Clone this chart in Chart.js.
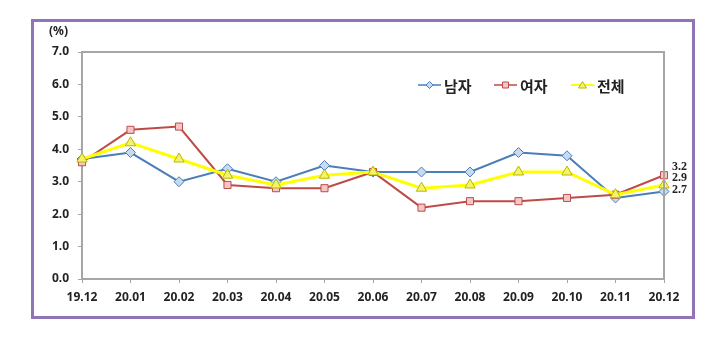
<!DOCTYPE html>
<html>
<head>
<meta charset="utf-8">
<script src="https://cdn.jsdelivr.net/npm/chart.js@4"></script>
<style>
  body { margin: 0; background: #fff; }
  #wrap { position: relative; width: 710px; height: 360px; }
  #frame {
    position: absolute; left: 31px; top: 19px; width: 658px; height: 294px;
    border: 3px solid #8f74b6; pointer-events: none;
  }
</style>
</head>
<body>
<div id="wrap">
  <canvas id="chart" width="710" height="360"></canvas>
  <div id="frame"></div>
</div>
<script>
const months = ["19.12", "20.01", "20.02", "20.03", "20.04", "20.05", "20.06",
  "20.07", "20.08", "20.09", "20.10", "20.11", "20.12"];
const men = [3.7, 3.9, 3.0, 3.4, 3.0, 3.5, 3.3, 3.3, 3.3, 3.9, 3.8, 2.5, 2.7];
const women = [3.6, 4.6, 4.7, 2.9, 2.8, 2.8, 3.3, 2.2, 2.4, 2.4, 2.5, 2.6, 3.2];
const total = [3.7, 4.2, 3.7, 3.2, 2.9, 3.2, 3.3, 2.8, 2.9, 3.3, 3.3, 2.6, 2.9];
const seriesNames = ["남자", "여자", "전체"];

const tickFont = { family: "'Noto Sans', sans-serif", size: 12, weight: "bold" };

// frame, unit label, custom legend and end labels
const extras = {
  id: "extras",
  afterDraw(chart) {
    const ctx = chart.ctx;
    const a = chart.chartArea;
    ctx.save();
    ctx.strokeStyle = "#a6a6a6";
    ctx.lineWidth = 2;
    ctx.beginPath();
    ctx.moveTo(a.left, a.top);
    ctx.lineTo(a.right, a.top);
    ctx.lineTo(a.right, a.bottom);
    ctx.stroke();

    ctx.fillStyle = "#222";
    ctx.font = "bold 12px 'Noto Sans', sans-serif";
    ctx.textAlign = "left";
    ctx.textBaseline = "middle";
    ctx.fillText("(%)", 49, 32);

    // end-of-line labels
    const last = months.length - 1;
    const x = chart.scales.x.getPixelForValue(last);
    ctx.font = "bold 12px 'Liberation Serif', serif";
    ctx.fillText(women[last].toFixed(1), x + 8, 167);
    ctx.fillText(total[last].toFixed(1), x + 8, 178);
    ctx.fillText(men[last].toFixed(1), x + 8, 190);

    // legend
    const ly = 85;
    const items = [
      { x: 418, ds: chart.data.datasets[0] },
      { x: 494, ds: chart.data.datasets[1] },
      { x: 571, ds: chart.data.datasets[2] },
    ];
    items.forEach((it, i) => {
      ctx.strokeStyle = it.ds.borderColor;
      ctx.lineWidth = i === 2 ? 2 : 1.5;
      ctx.beginPath();
      ctx.moveTo(it.x, ly);
      ctx.lineTo(it.x + 23, ly);
      ctx.stroke();
      ctx.fillStyle = it.ds.pointBackgroundColor;
      ctx.strokeStyle = it.ds.pointBorderColor;
      ctx.lineWidth = 1;
      const cx = it.x + 11.5;
      ctx.beginPath();
      if (i === 0) {
        ctx.moveTo(cx, ly - 3.5); ctx.lineTo(cx + 3.5, ly); ctx.lineTo(cx, ly + 3.5); ctx.lineTo(cx - 3.5, ly);
      } else if (i === 1) {
        ctx.rect(cx - 3, ly - 3, 6, 6);
      } else {
        ctx.moveTo(cx, ly - 3.5); ctx.lineTo(cx + 4, ly + 3); ctx.lineTo(cx - 4, ly + 3);
      }
      ctx.closePath();
      ctx.fill();
      ctx.stroke();
      ctx.fillStyle = "#222";
      ctx.font = "bold 15px 'Noto Sans CJK KR', sans-serif";
      ctx.textAlign = "left";
      ctx.fillText(seriesNames[i], it.x + 26, ly + 1);
    });
    ctx.restore();
  },
};

new Chart(document.getElementById("chart"), {
  type: "line",
  data: {
    labels: months,
    datasets: [
      {
        label: seriesNames[0],
        data: men,
        borderColor: "#4a7ebb",
        borderWidth: 2,
        pointStyle: "rectRot",
        pointRadius: 5,
        pointBackgroundColor: "#c6dbf2",
        pointBorderColor: "#4a7ebb",
        pointBorderWidth: 1,
        order: 2,
      },
      {
        label: seriesNames[1],
        data: women,
        borderColor: "#be4b48",
        borderWidth: 2,
        pointStyle: "rect",
        pointRadius: 5,
        pointBackgroundColor: "#f5c6c6",
        pointBorderColor: "#be4b48",
        pointBorderWidth: 1,
        order: 1,
      },
      {
        label: seriesNames[2],
        data: total,
        borderColor: "#ffff00",
        borderWidth: 3,
        pointStyle: "triangle",
        pointRadius: 6,
        pointBackgroundColor: "#f4f46a",
        pointBorderColor: "#b8b800",
        pointBorderWidth: 1,
        order: 0,
      },
    ],
  },
  options: {
    responsive: false,
    animation: false,
    layout: { padding: { left: 0, top: 52, right: 46, bottom: 0 } },
    plugins: {
      legend: { display: false },
      tooltip: { enabled: false },
    },
    scales: {
      x: {
        offset: false,
        afterFit: (scale) => { scale.height = 81; },
        grid: { display: true, drawOnChartArea: false, tickLength: 4, color: "#a6a6a6" },
        border: { color: "#a6a6a6", width: 2 },
        ticks: { font: tickFont, color: "#222", padding: 7, maxRotation: 0, autoSkip: false },
      },
      y: {
        min: 0,
        max: 7,
        afterFit: (scale) => { scale.width = 82; },
        grid: { display: true, drawOnChartArea: false, tickLength: 4, color: "#a6a6a6" },
        border: { color: "#a6a6a6", width: 2 },
        ticks: {
          stepSize: 1,
          font: tickFont,
          color: "#222",
          padding: 9,
          callback: (v) => v.toFixed(1),
        },
      },
    },
  },
  plugins: [extras],
});
</script>
</body>
</html>
